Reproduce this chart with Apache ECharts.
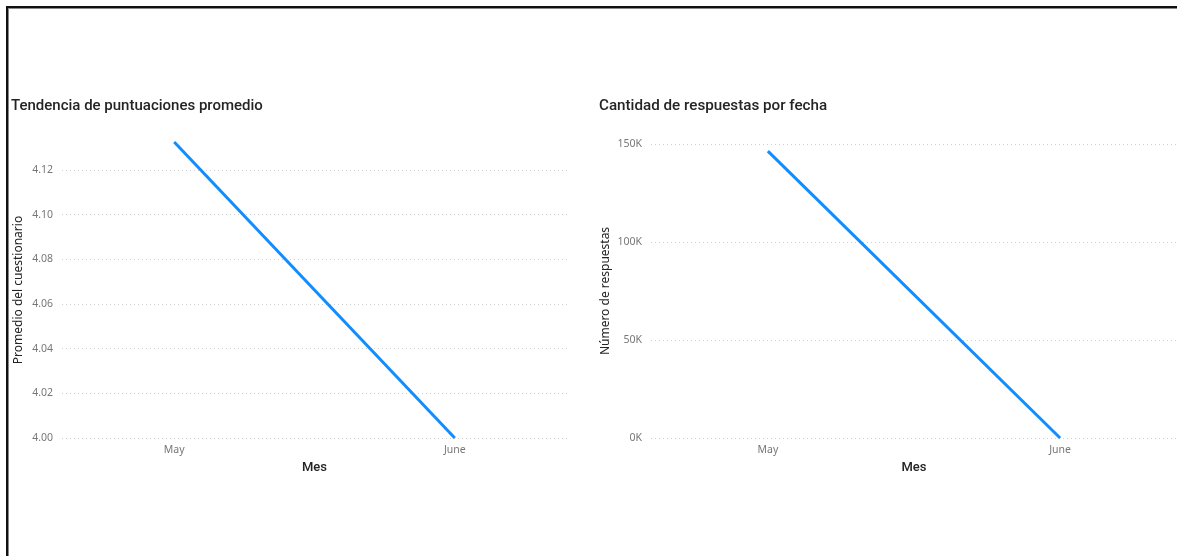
<!DOCTYPE html>
<html>
<head>
<meta charset="utf-8">
<script src="https://cdn.jsdelivr.net/npm/echarts@6/dist/echarts.min.js"></script>
<style>
  html, body { margin: 0; padding: 0; background: #fff; overflow: hidden; }
  #frame {
    position: absolute; left: 6px; top: 6px; width: 1300px; height: 700px;
    border-top: 2px solid #111; border-left: 2px solid #111;
    box-shadow: inset 1px 1px 0 #888;
  }
  #chart { position: absolute; left: 0; top: 0; width: 1177px; height: 556px; }
</style>
</head>
<body>
<div id="frame"></div>
<div id="chart"></div>
<script>
// Months shown on both charts
const months = ['May', 'June'];
// Average questionnaire score per month
const avgScore = [4.1325, 4.00];
// Number of responses per month
const responseCount = [146400, 0];
// Axis ranges and tick steps
const scoreAxis = { min: 4.00, max: 4.1325, step: 0.02 };
const countAxis = { min: 0, max: 150000, step: 50000 };

const labelFont = 'Noto Sans';
const titleFont = 'Roboto';
const blue = '#118DFF';

function monthName(v) {
  const i = Math.round(v);
  return months[i] !== undefined ? months[i] : '';
}

function xAxisFor(gridIndex) {
  return {
    type: 'value', gridIndex: gridIndex, min: -0.4, max: months.length - 0.6,
    name: 'Mes', nameLocation: 'middle', nameGap: 23,
    nameTextStyle: { color: '#252423', fontSize: 13, fontFamily: titleFont, fontWeight: 500 },
    axisLine: { show: false }, axisTick: { show: false }, splitLine: { show: false },
    axisLabel: {
      customValues: months.map((m, i) => i),
      formatter: monthName, color: '#777', fontSize: 10.5, fontFamily: labelFont, margin: 7
    }
  };
}

function yAxisFor(gridIndex, range, name, fmt, gap) {
  return {
    type: 'value', gridIndex: gridIndex, min: range.min, max: range.max, interval: range.step,
    name: name, nameLocation: 'middle', nameGap: gap,
    nameTextStyle: { color: '#252423', fontSize: 12, fontFamily: labelFont },
    axisLine: { show: false }, axisTick: { show: false },
    axisLabel: { formatter: fmt, color: '#777', fontSize: 10.5, fontFamily: labelFont, margin: 9, showMaxLabel: range.max % range.step === 0 },
    splitLine: { show: true, showMaxLine: range.max % range.step === 0, lineStyle: { color: '#cfcfcf', type: [1, 3], width: 1 } }
  };
}

const chart = echarts.init(document.getElementById('chart'));
chart.setOption({
  animation: false,
  title: [
    { text: 'Tendencia de puntuaciones promedio', left: 6, top: 94,
      textStyle: { fontSize: 15, fontWeight: 500, color: '#252423', fontFamily: titleFont } },
    { text: 'Cantidad de respuestas por fecha', left: 594, top: 94,
      textStyle: { fontSize: 15.2, fontWeight: 500, color: '#252423', fontFamily: titleFont } }
  ],
  grid: [
    { left: 62, top: 142, width: 505, height: 296 },
    { left: 651, top: 144, width: 526, height: 294 }
  ],
  xAxis: [xAxisFor(0), xAxisFor(1)],
  yAxis: [
    yAxisFor(0, scoreAxis, 'Promedio del cuestionario', v => v.toFixed(2), 37),
    yAxisFor(1, countAxis, 'Número de respuestas', v => (v / 1000) + 'K', 39)
  ],
  series: [
    { type: 'line', xAxisIndex: 0, yAxisIndex: 0, data: avgScore.map((v, i) => [i, v]),
      showSymbol: false, lineStyle: { color: blue, width: 3 } },
    { type: 'line', xAxisIndex: 1, yAxisIndex: 1, data: responseCount.map((v, i) => [i, v]),
      showSymbol: false, lineStyle: { color: blue, width: 3 } }
  ]
});
</script>
</body>
</html>
